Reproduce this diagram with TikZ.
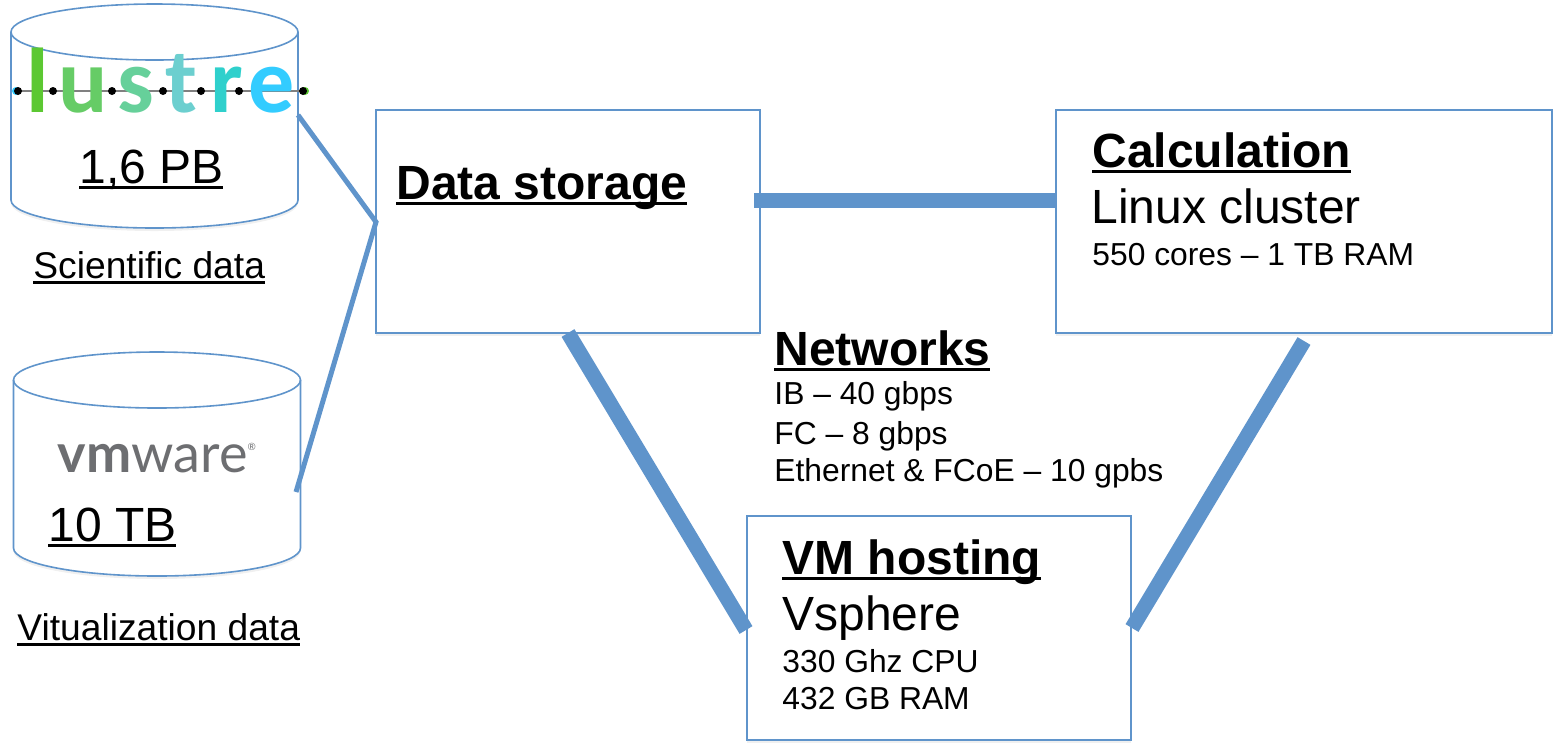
\documentclass[tikz,border=0pt]{standalone}
\usepackage{fontspec}
\setmainfont{Liberation Sans}
\newfontfamily\logofont{Lato}
\newfontfamily\lustrefont{Carlito}
\newcommand{\ulabel}[1]{\setbox0=\hbox{#1}\rlap{\raisebox{-2.8pt}{\rule{\wd0}{1.1pt}}}\box0}
\usetikzlibrary{shadows}
\definecolor{linkblue}{HTML}{5F94CB}
\definecolor{vmgrey}{HTML}{6D6E71}
\definecolor{lustrel}{HTML}{5CC832}
\definecolor{lustreu}{HTML}{66CC66}
\definecolor{lustres}{HTML}{66D09A}
\definecolor{lustret}{HTML}{6CCFCF}
\definecolor{lustrer}{HTML}{2FD0CC}
\definecolor{lustree}{HTML}{33CCFF}
\tikzset{
  softshadow/.style={drop shadow={shadow xshift=0pt, shadow yshift=-1.5pt, opacity=0.12}},
  hostbox/.style={draw=linkblue, line width=0.8pt, fill=white, inner sep=0pt, softshadow},
  drumface/.style={draw=linkblue, line width=0.8pt, fill=white, softshadow},
  drumline/.style={draw=linkblue, line width=0.8pt},
  thinlink/.style={linkblue, line width=2.5pt},
  thicklink/.style={linkblue, line width=7.5pt},
  bigtext/.style={font=\fontsize{24}{28}\selectfont, anchor=base west, inner sep=0pt},
  midtext/.style={font=\fontsize{18.6}{22}\selectfont, anchor=base west, inner sep=0pt},
  smalltext/.style={font=\fontsize{15.9}{19}\selectfont, anchor=base west, inner sep=0pt},
  lustreletter/.style={font=\lustrefont\bfseries\fontsize{46}{48}\selectfont, anchor=base, inner sep=0pt},
  lustredot/.style={circle, fill=black, inner sep=0pt, minimum size=4pt}
}
\begin{document}
\begin{tikzpicture}[x=0.5pt, y=-0.5pt]
    \useasboundingbox (0,0) rectangle (1556,746);

    % storage drums
    \foreach \drumx/\drumy in {154.5/32, 157/380}
    {
      \begin{scope}[shift={(\drumx,\drumy)}]
        \draw[drumface] (-143.5,0) -- (-143.5,168) arc[start angle=180, end angle=360, x radius=71.75pt, y radius=14pt] -- (143.5,0) arc[start angle=0, end angle=180, x radius=71.75pt, y radius=14pt];
        \draw[drumline] (-143.5,0) arc[start angle=180, end angle=360, x radius=71.75pt, y radius=14pt];
      \end{scope}
    }

    % hosts
    \node[hostbox, minimum width=192pt, minimum height=111.5pt] (storagebox) at (568,221.5) {};
    \node[hostbox, minimum width=248pt, minimum height=111.5pt] (calcbox) at (1304,221.5) {};
    \node[hostbox, minimum width=192pt, minimum height=112pt] (vmbox) at (939,628) {};

    % link ends
    \coordinate (lustreend) at (298,115);
    \coordinate (vmend) at (296,492);
    \coordinate (storagejoin) at (376,222);
    \coordinate (storageright) at (754,200);
    \coordinate (calcleft) at (1056,200);
    \coordinate (storagelow) at (568,333);
    \coordinate (vmleft) at (746,630);
    \coordinate (calclow) at (1304,341);
    \coordinate (vmright) at (1132,628);

    \draw[thinlink] (lustreend) -- (storagejoin) -- (vmend);
    \draw[thicklink] (storageright) -- (calcleft);
    \draw[thicklink] (storagelow) -- (vmleft);
    \draw[thicklink] (calclow) -- (vmright);

    % lustre logo
    \node[lustredot, fill=lustree] (lustretipa) at (16,91) {};
    \node[lustredot, fill=lustrel] (lustretipb) at (305,91) {};
    \coordinate (lustrestart) at (17,91);
    \coordinate (lustrestop) at (303,91);
    \draw[gray, line width=0.8pt] (lustrestart) -- (lustrestop);
    \foreach \dotx/\dotname in {18/a, 53/b, 112/c, 163/d, 201/e, 239/f, 303/g}
      \node[lustredot] (lustredot\dotname) at (\dotx,91) {};
    \foreach \letterx/\lettername in {38/l, 83/u, 136/s, 181/t, 227/r, 272/e}
      \node[lustreletter, text=lustre\lettername] (letter\lettername) at (\letterx,112) {\lettername};

    % vmware logo
    \node[anchor=base, inner sep=0pt, text=vmgrey, font=\logofont\fontsize{27}{31}\selectfont] (vmlogo) at (157,472) {\textbf{vm}ware\raisebox{11pt}{\fontsize{5}{6}\selectfont\textregistered}};

    % drum labels
    \node[bigtext] (lustresize) at (79,183) {\ulabel{1,6 PB}};
    \node[midtext] (lustrename) at (33,278) {\ulabel{Scientific data}};
    \node[bigtext] (vmsize) at (48,541) {\ulabel{10 TB}};
    \node[midtext] (vmname) at (17,640) {\ulabel{Vitualization data}};

    % host labels
    \node[bigtext, font=\fontsize{24}{28}\selectfont\bfseries] (storagetitle) at (396,199) {\ulabel{Data storage}};
    \node[bigtext, font=\fontsize{24}{28}\selectfont\bfseries] (calctitle) at (1092,167) {\ulabel{Calculation}};
    \node[bigtext] (calcsub) at (1091,223) {Linux cluster};
    \node[smalltext] (calcspec) at (1092,265) {550 cores -- 1 TB RAM};
    \node[bigtext, font=\fontsize{24}{28}\selectfont\bfseries] (vmtitle) at (782,574) {\ulabel{VM hosting}};
    \node[bigtext] (vmsub) at (782,630) {Vsphere};
    \node[smalltext] (vmcpu) at (782,672) {330 Ghz CPU};
    \node[smalltext] (vmram) at (782,709) {432 GB RAM};

    % networks
    \node[bigtext, font=\fontsize{24}{28}\selectfont\bfseries] (nettitle) at (774,365) {\ulabel{Networks}};
    \node[smalltext] (netib) at (774,404) {IB -- 40 gbps};
    \node[smalltext] (netfc) at (774,444) {FC -- 8 gbps};
    \node[smalltext] (neteth) at (774,481) {Ethernet \& FCoE -- 10 gpbs};
  \end{tikzpicture}
\end{document}
